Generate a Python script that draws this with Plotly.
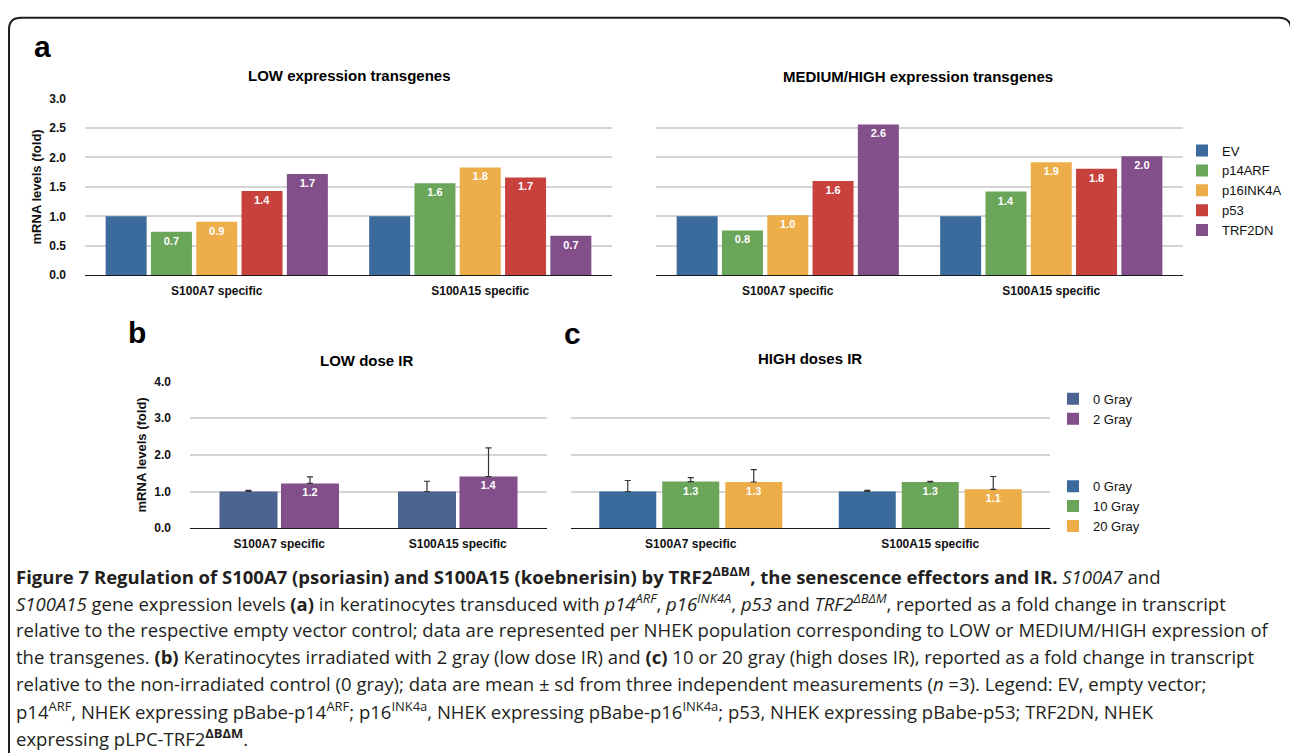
import plotly.graph_objects as go

# ---------------- data ----------------
groups = ["S100A7 specific", "S100A15 specific"]

transgenes = ["EV", "p14ARF", "p16INK4A", "p53", "TRF2DN"]
low_s100a7 = [1.00, 0.74, 0.91, 1.43, 1.72]
low_s100a15 = [1.00, 1.56, 1.83, 1.66, 0.67]
med_s100a7 = [1.00, 0.76, 1.02, 1.60, 2.56]
med_s100a15 = [1.00, 1.42, 1.92, 1.81, 2.02]

low_doses = ["0 Gray", "2 Gray"]
lowir_s100a7 = [1.00, 1.22]
lowir_s100a7_sd = [0.03, 0.18]
lowir_s100a15 = [1.00, 1.41]
lowir_s100a15_sd = [0.28, 0.78]

high_doses = ["0 Gray", "10 Gray", "20 Gray"]
highir_s100a7 = [1.00, 1.27, 1.26]
highir_s100a7_sd = [0.30, 0.11, 0.34]
highir_s100a15 = [1.00, 1.26, 1.06]
highir_s100a15_sd = [0.03, 0.02, 0.35]

# ---------------- styles ----------------
W, H = 1290, 754
C_EV = "#3b6a9c"
C_P14 = "#6aa55a"
C_P16 = "#edae4a"
C_P53 = "#c8413d"
C_TRF = "#824f8a"
C_SLATE = "#4a6391"
GRID = "#d4d4d4"
AXIS = "#1a1a1a"
FONT = "Liberation Sans, Arial, sans-serif"
CAPFONT = "Open Sans, Noto Sans, sans-serif"


def fx(px):
    return px / W


def fy(py):
    return 1 - py / H


fig = go.Figure()


def add_panel(xa, ya, names, per_group, colors, legend, showlegend,
              cat_px, bar_px, pitch_px, sds=None):
    n = len(names)
    w = bar_px / cat_px
    pitch = pitch_px / cat_px
    for i, name in enumerate(names):
        yv = [g[i] for g in per_group]
        off = -n / 2 * pitch + i * pitch + (pitch - w) / 2
        kw = {}
        if sds is not None:
            kw["error_y"] = dict(type="data", symmetric=False,
                                 array=[s[i] for s in sds],
                                 arrayminus=[0] * len(per_group),
                                 color="#333333", thickness=1.2, width=3)
        if i > 0:  # the control bars carry no value label
            kw.update(texttemplate="%{y:.1f}", textposition="inside",
                      insidetextanchor="end", textangle=0,
                      textfont=dict(color="white", size=11, family=FONT,
                                    weight="bold"))
        fig.add_trace(go.Bar(
            x=groups, y=yv, name=name,
            marker=dict(color=colors[i], line=dict(width=0)),
            width=w, offset=off,
            xaxis=xa, yaxis=ya,
            legend=legend, showlegend=showlegend,
            hoverinfo="skip", **kw))


colors_a = [C_EV, C_P14, C_P16, C_P53, C_TRF]
add_panel("x", "y", transgenes, [low_s100a7, low_s100a15], colors_a,
          "legend", True, 263.5, 41, 45.3)
add_panel("x2", "y2", transgenes, [med_s100a7, med_s100a15], colors_a,
          "legend", False, 263.5, 41, 45.3)
add_panel("x3", "y3", low_doses, [lowir_s100a7, lowir_s100a15],
          [C_SLATE, C_TRF], "legend2", True, 178.5, 58, 61.5,
          sds=[lowir_s100a7_sd, lowir_s100a15_sd])
add_panel("x4", "y4", high_doses, [highir_s100a7, highir_s100a15],
          [C_EV, C_P14, C_P16], "legend3", True, 239.5, 57, 63,
          sds=[highir_s100a7_sd, highir_s100a15_sd])

tickfont = dict(family=FONT, size=12, color="#111", weight="bold")


def xaxis(x0, x1, anchor):
    return dict(domain=[fx(x0), fx(x1)], anchor=anchor, type="category",
                range=[-0.5, 1.5], showgrid=False, showline=True,
                linecolor=AXIS, linewidth=1.2, ticks="", tickfont=tickfont,
                ticklabelstandoff=4, fixedrange=True)


def yaxis(y0, y1, anchor, rng, dtick, labels, title=None):
    d = dict(domain=[fy(y0), fy(y1)], anchor=anchor, range=rng, dtick=dtick,
             tickformat=".1f", showgrid=True, gridcolor=GRID, gridwidth=1.5,
             zeroline=False, showline=False, ticks="",
             showticklabels=labels, tickfont=tickfont,
             ticklabelstandoff=18, fixedrange=True)
    if title:
        d["title"] = dict(text=title, font=dict(family=FONT, size=13,
                                                color="#111", weight="bold"),
                          standoff=4)
    return d


legfont = dict(family=FONT, size=13, color="#111")
fig.update_layout(
    width=W, height=H,
    margin=dict(l=0, r=0, t=0, b=0),
    paper_bgcolor="white", plot_bgcolor="white",
    barmode="overlay",
    xaxis=xaxis(85, 612, "y"),
    yaxis=yaxis(273.3, 93.3, "x", [0, 3], 0.5, True, "mRNA levels (fold)"),
    xaxis2=xaxis(656, 1183, "y2"),
    yaxis2=yaxis(273.3, 93.3, "x2", [0, 3], 0.5, False),
    xaxis3=xaxis(190, 547, "y3"),
    yaxis3=yaxis(531, 381.7, "x3", [0, 4], 1, True, "mRNA levels (fold)"),
    xaxis4=xaxis(571, 1050, "y4"),
    yaxis4=yaxis(531, 381.7, "x4", [0, 4], 1, False),
    legend=dict(x=fx(1182), y=fy(131), xanchor="left", yanchor="top",
                font=legfont, bgcolor="rgba(0,0,0,0)", tracegroupgap=0),
    legend2=dict(x=fx(1053), y=fy(384), xanchor="left", yanchor="top",
                 font=legfont, bgcolor="rgba(0,0,0,0)", tracegroupgap=0),
    legend3=dict(x=fx(1053), y=fy(473), xanchor="left", yanchor="top",
                 font=legfont, bgcolor="rgba(0,0,0,0)", tracegroupgap=0),
    showlegend=True,
)

# panel letters and titles
ann = []
for txt, x, y in [("a", 42, 40), ("b", 137, 332), ("c", 572, 333)]:
    ann.append(dict(text=txt, x=fx(x), y=fy(y), xref="paper", yref="paper",
                    showarrow=False, xanchor="center", yanchor="middle",
                    font=dict(family=FONT, size=30, color="#000", weight="bold")))
for txt, x, y in [("LOW expression transgenes", 349, 70),
                  ("MEDIUM/HIGH expression transgenes", 918, 71),
                  ("LOW dose IR", 367, 360),
                  ("HIGH doses IR", 810, 358)]:
    ann.append(dict(text=txt, x=fx(x), y=fy(y), xref="paper", yref="paper",
                    showarrow=False, xanchor="center", yanchor="middle",
                    font=dict(family=FONT, size=15, color="#000", weight="bold")))

caption = [
    "<b>Figure 7 Regulation of S100A7 (psoriasin) and S100A15 (koebnerisin) by TRF2<sup>ΔBΔM</sup>, the senescence effectors and IR.</b> <i>S100A7</i> and",
    "<i>S100A15</i> gene expression levels <b>(a)</b> in keratinocytes transduced with <i>p14<sup>ARF</sup></i>, <i>p16<sup>INK4A</sup></i>, <i>p53</i> and <i>TRF2<sup>ΔBΔM</sup></i>, reported as a fold change in transcript",
    "relative to the respective empty vector control; data are represented per NHEK population corresponding to LOW or MEDIUM/HIGH expression of",
    "the transgenes. <b>(b)</b> Keratinocytes irradiated with 2 gray (low dose IR) and <b>(c)</b> 10 or 20 gray (high doses IR), reported as a fold change in transcript",
    "relative to the non-irradiated control (0 gray); data are mean ± sd from three independent measurements (<i>n</i> =3). Legend: EV, empty vector;",
    "p14<sup>ARF</sup>, NHEK expressing pBabe-p14<sup>ARF</sup>; p16<sup>INK4a</sup>, NHEK expressing pBabe-p16<sup>INK4a</sup>; p53, NHEK expressing pBabe-p53; TRF2DN, NHEK",
    "expressing pLPC-TRF2<sup><b>ΔBΔM</b></sup>.",
]
for k, line in enumerate(caption):
    ann.append(dict(text=line, x=fx(14), y=fy(579 + 27.5 * k), xref="paper",
                    yref="paper", showarrow=False, xanchor="left",
                    yanchor="middle", align="left",
                    font=dict(family=CAPFONT, size=18.5, color="#231f20")))
fig.update_layout(annotations=ann)

# rounded frame (right side runs just off the canvas)
x0, y0, x1, r = 9, 11, 1291, 12
path = (f"M {fx(x0)} {fy(760)} L {fx(x0)} {fy(y0 + r)} "
        f"Q {fx(x0)} {fy(y0)} {fx(x0 + r)} {fy(y0)} "
        f"L {fx(x1 - r)} {fy(y0)} Q {fx(x1)} {fy(y0)} {fx(x1)} {fy(y0 + r)} "
        f"L {fx(x1)} {fy(760)}")
fig.add_shape(type="path", path=path, xref="paper", yref="paper",
              line=dict(color="#231f20", width=2))

fig.write_html("out.html",
               config={"displayModeBar": False},
               post_script="document.body.style.margin='0';"
                           "document.body.style.overflow='hidden';")
